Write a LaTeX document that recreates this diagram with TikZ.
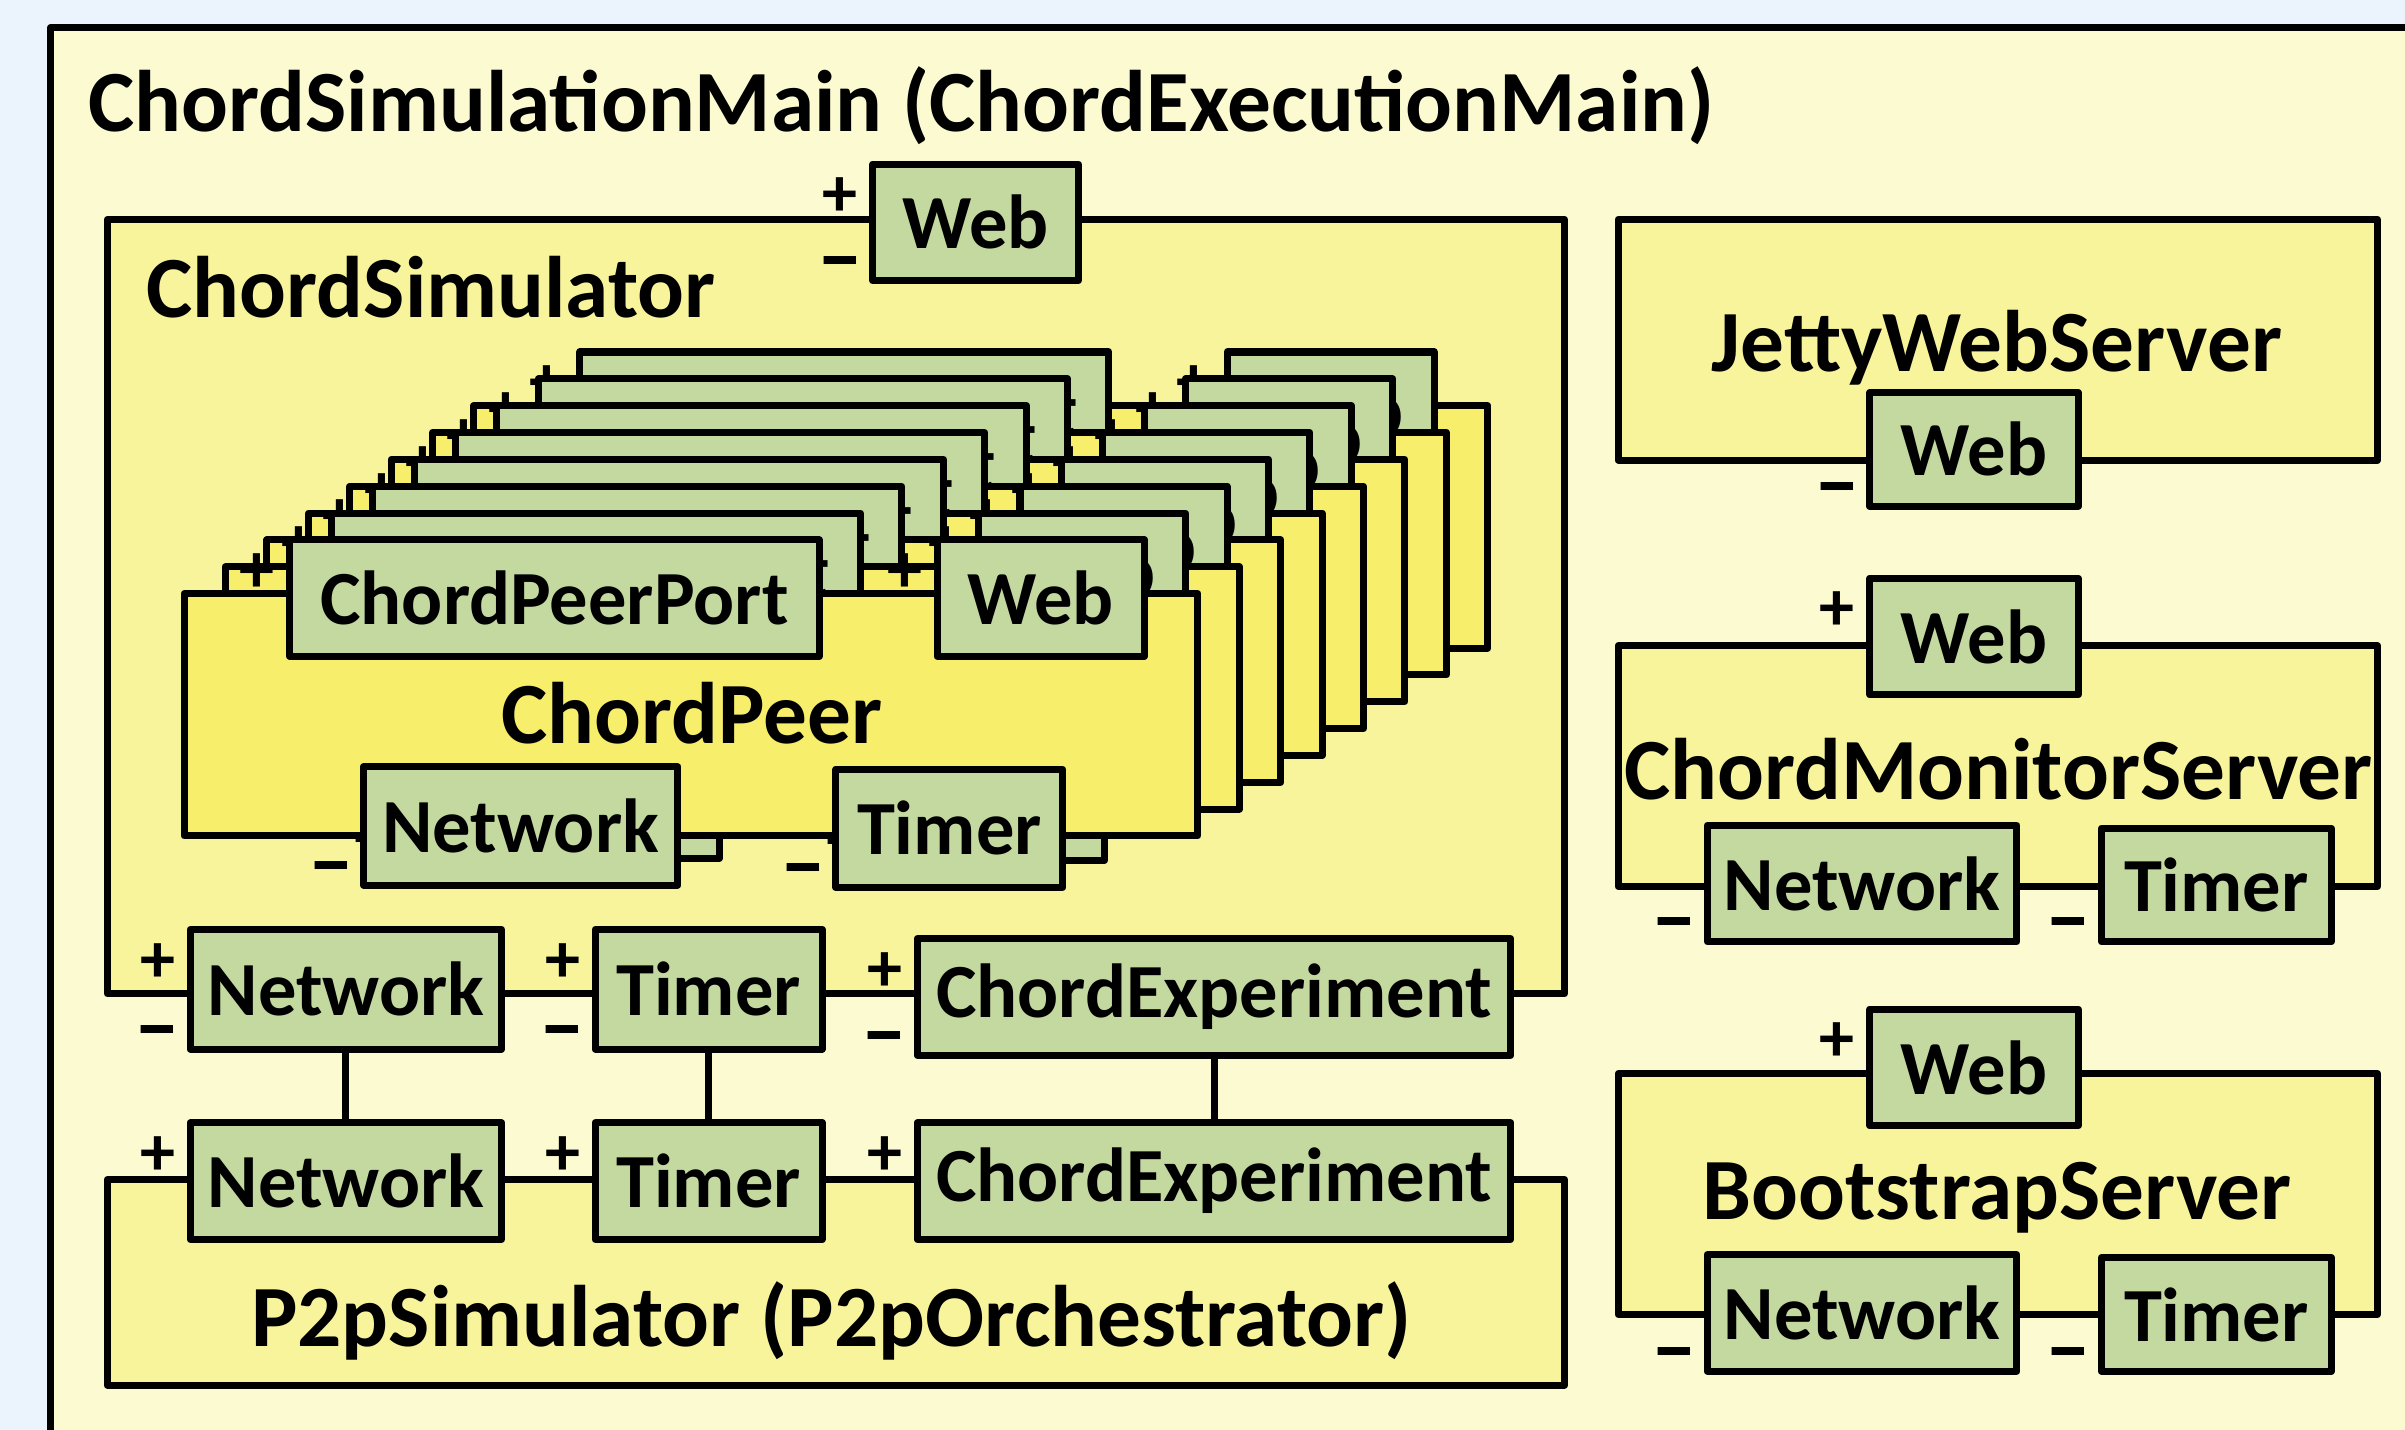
\documentclass[tikz,border=0pt]{standalone}
\usepackage{fontspec}
\setmainfont{Carlito}
\usepackage{tikz}
\usetikzlibrary{positioning,calc}
\definecolor{bgblue}{RGB}{235,243,252}
\definecolor{mainfill}{RGB}{252,250,208}
\definecolor{compfill}{RGB}{248,244,156}
\definecolor{peerfill}{RGB}{247,238,108}
\definecolor{portfill}{RGB}{196,217,160}
\tikzset{
  frame/.style={draw,line width=1.3pt,line join=round},
  comp/.style={frame,fill=compfill,inner sep=0pt},
  peer/.style={frame,fill=peerfill,inner sep=0pt},
  port/.style={frame,fill=portfill,inner sep=0pt,minimum height=7.6mm,
               font=\fontsize{14.2}{16}\selectfont\bfseries},
  cname/.style={font=\fontsize{16.2}{20}\selectfont\bfseries,inner sep=0pt},
  sgn/.style={font=\fontsize{13}{15}\selectfont\bfseries,inner sep=0pt},
  sgnm/.style={font=\fontsize{17}{15}\selectfont\bfseries,inner sep=0pt}
}
% polarity marks next to a port
\newcommand{\portplus}[1]{\node[sgn] at ([xshift=-1.9mm,yshift=-2.4mm]#1.north west) {+};}
\newcommand{\portminus}[1]{\node[sgnm] at ([xshift=-1.9mm,yshift=0.8mm]#1.south west) {\textendash};}

\begin{document}
\begin{tikzpicture}
  \useasboundingbox (0,0) rectangle (15.68,9.32);
  \clip (0,0) rectangle (15.68,9.32);
  \fill[bgblue] (0,0) rectangle (15.68,9.32);

  % ---- main component ----
  \node[frame,fill=mainfill,inner sep=0pt,minimum width=15.97cm,minimum height=9.54cm] (main) at (8.315,4.37) {};
  \node[cname,anchor=base west] (mainlbl) at (0.57,8.46) {ChordSimulationMain (ChordExecutionMain)};

  % ---- simulator ----
  \node[comp,minimum width=9.5cm,minimum height=5.05cm] (sim) at (5.45,5.365) {};
  \node[cname,anchor=base west] (simlbl) at (0.95,7.25) {ChordSimulator};
  \node[port,minimum width=1.34cm] (simweb) at (6.36,7.87) {Web};
  \portplus{simweb} \portminus{simweb}

  % stack of peers, back to front
  \foreach \k in {7,6,...,0}{
    \begin{scope}[shift={(0.27*\k,0.175*\k)}]
      \node[peer,minimum width=6.61cm,minimum height=1.58cm] (peer\k) at (4.505,4.66) {};
      \node[cname,anchor=base] (peerlbl\k) at (4.51,4.47) {ChordPeer};
      \node[port,minimum width=3.45cm] (cpp\k) at (3.615,5.42) {ChordPeerPort};
      \node[port,minimum width=1.35cm] (pweb\k) at (6.785,5.42) {Web};
      \node[port,minimum width=2.05cm,minimum height=7.7mm] (pnet\k) at (3.395,3.935) {Network};
      \node[port,minimum width=1.48cm,minimum height=7.7mm] (ptim\k) at (6.19,3.92) {Timer};
      \portplus{cpp\k} \portplus{pweb\k}
      \portminus{pnet\k} \portminus{ptim\k}
    \end{scope}
  }

  \node[port,minimum width=2.03cm,minimum height=7.8mm] (simnet) at (2.255,2.87) {Network};
  \node[port,minimum width=1.48cm,minimum height=7.8mm] (simtim) at (4.62,2.87) {Timer};
  \node[port,minimum width=3.87cm] (simexp) at (7.915,2.82) {ChordExperiment};
  \portplus{simnet} \portminus{simnet}
  \portplus{simtim} \portminus{simtim}
  \portplus{simexp} \portminus{simexp}

  % ---- p2p simulator ----
  \node[comp,minimum width=9.5cm,minimum height=1.34cm] (p2p) at (5.45,0.96) {};
  \node[cname,anchor=base] (p2plbl) at (5.42,0.54) {P2pSimulator (P2pOrchestrator)};
  \node[port,minimum width=2.03cm] (p2pnet) at (2.255,1.62) {Network};
  \node[port,minimum width=1.48cm] (p2ptim) at (4.62,1.62) {Timer};
  \node[port,minimum width=3.87cm] (p2pexp) at (7.915,1.62) {ChordExperiment};
  \portplus{p2pnet} \portplus{p2ptim} \portplus{p2pexp}

  \draw[frame] (simnet) -- (p2pnet);
  \draw[frame] (simtim) -- (p2ptim);
  \draw[frame] (simexp) -- (p2pexp);

  % ---- servers ----
  \node[comp,minimum width=4.95cm,minimum height=1.57cm] (jetty) at (13.025,7.105) {};
  \node[cname,anchor=base] (jettylbl) at (13.02,6.90) {JettyWebServer};
  \node[port,minimum width=1.36cm,minimum height=7.4mm] (jweb) at (12.87,6.39) {Web};
  \portminus{jweb}

  \node[comp,minimum width=4.95cm,minimum height=1.57cm] (mon) at (13.025,4.325) {};
  \node[cname,anchor=base] (monlbl) at (13.03,4.11) {ChordMonitorServer};
  \node[port,minimum width=1.36cm] (mweb) at (12.87,5.17) {Web};
  \node[port,minimum width=2.02cm] (mnet) at (12.14,3.56) {Network};
  \node[port,minimum width=1.50cm,minimum height=7.4mm] (mtim) at (14.45,3.55) {Timer};
  \portplus{mweb} \portminus{mnet} \portminus{mtim}

  \node[comp,minimum width=4.95cm,minimum height=1.57cm] (boot) at (13.025,1.535) {};
  \node[cname,anchor=base] (bootlbl) at (13.02,1.37) {BootstrapServer};
  \node[port,minimum width=1.36cm] (bweb) at (12.87,2.36) {Web};
  \node[port,minimum width=2.02cm] (bnet) at (12.14,0.76) {Network};
  \node[port,minimum width=1.50cm,minimum height=7.4mm] (btim) at (14.45,0.75) {Timer};
  \portplus{bweb} \portminus{bnet} \portminus{btim}
\end{tikzpicture}
\end{document}
